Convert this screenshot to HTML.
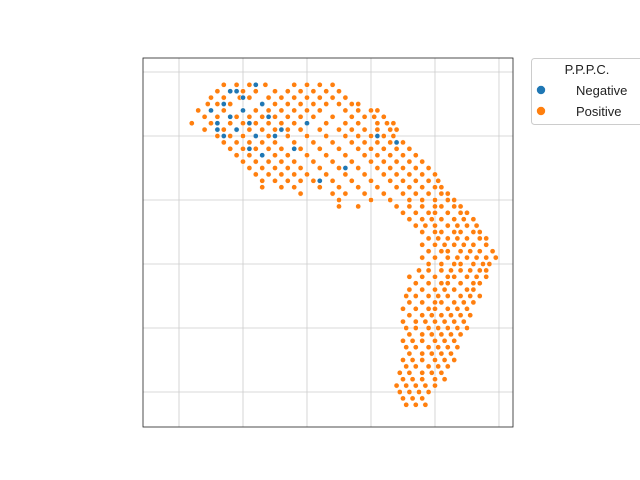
<!DOCTYPE html>
<html><head><meta charset="utf-8">
<style>
body{margin:0;background:#fff;}
svg{display:block;font-family:"Liberation Sans","DejaVu Sans",sans-serif;}
</style></head>
<body>
<svg id="chart" width="640" height="480">
<rect x="0" y="0" width="640" height="480" fill="#fff"/>
<g id="grid"></g>
<g id="points"></g>
<rect x="143" y="58" width="370" height="369" fill="none" stroke="#222" stroke-width="0.8"/>
<g>
<rect x="531.5" y="58.5" width="115" height="66" rx="3" fill="#fff" stroke="#ccc"/>
<text x="587" y="74" font-size="13" text-anchor="middle" fill="#222">P.P.P.C.</text>
<circle cx="541" cy="90" r="4.5" fill="#1f77b4" stroke="#fff" stroke-width="0.6"/>
<text x="576" y="95" font-size="13" fill="#222">Negative</text>
<circle cx="541" cy="111" r="4.5" fill="#ff7f0e" stroke="#fff" stroke-width="0.6"/>
<text x="576" y="116" font-size="13" fill="#222">Positive</text>
</g>
</svg>
<script>
const xTicks=[0,10,20,30,40,50];
const yTicks=[0,10,20,30,40,50];
const posRows=[
[48,[7,9,11,13.5,18,20,22,24]],
[47,[6,8,10,12,15,17,19,21,23,25]],
[46,[5,7,9.5,11,14,16,18,20,22,24,26]],
[45,[4.5,6,8,13,15,17,19,21,23,25,27,28]],
[44,[3,5,7,10,12,14,16,18,20,22,26,28,30,31]],
[43,[4,6,9,11,13,15,17,19,21,24,27,29,30.5,32]],
[42,[2,5,8,10,12,14,16,18,20,23,26,28,31,32.5,33.5]],
[41,[4,7,9,11,13,15,17,19,22,25,27,29,31,33,34]],
[40,[6,8,10,12,14,17,20,23,26,28,30,32,33.5]],
[39,[7,9,11,13,15,18,21,24,27,29,31,33,35]],
[38,[8,10,12,14,16,19,22,25,28,30,32,34,36]],
[37,[9,11,13,15,17,20,23,26,29,31,33,35,37]],
[36,[10,12,14,16,18,21,24,27,30,32,34,36,38]],
[35,[11,13,15,17,19,22,25,28,31,33,35,37,39]],
[34,[12,14,16,18,20,23,26,29,32,34,36,38,40]],
[33,[13,15,17,19,21,24,27,30,33,35,37,39,40.5]],
[32,[13,16,18,22,25,28,31,34,36,38,40,41]],
[31,[19,24,26,29,32,35,37,39,41,42]],
[30,[25,30,33,36,38,40,42,43]],
[29,[25,28,34,36,38,40,41,43,44]],
[28,[35,37,39,40,42,44,45]],
[27,[36,38,39.5,41,43,44.5,46]],
[26,[37,38.5,40,42,43.5,45,46.5]],
[25,[38,40,41,43,44,46,47]],
[24,[39,40.5,42,43.5,45,47,48]],
[23,[38,40,41.5,43,44.5,46,48]],
[22,[39,41,42,44,45.5,47,49]],
[21,[38,40,42,43.5,45,46.5,48,49.5]],
[20,[39,41,43,44,46,47.5,48.5]],
[19,[37.5,39,41,42.5,44,45.5,47,48]],
[18,[36,38,40,42,43,45,46.5,48]],
[17,[37,39,41,42,44,46,47]],
[16,[36,38,40,41.5,43,45,46]],
[15,[35.5,37,39,40.5,42,44,45.5,47]],
[14,[36,38,40,41,43,44.5,46]],
[13,[35,37,39,40,42,43.5,45]],
[12,[36,38,39.5,41,42.5,44,45.5]],
[11,[35,37,38.5,40,41.5,43,44.5]],
[10,[35.5,37,39,40.5,42,43.5,45]],
[9,[36,38,39.5,41,42.5,44]],
[8,[35,36.5,38,40,41.5,43]],
[7,[35.5,37,39,40.5,42,43.5]],
[6,[36,38,39.5,41,42.5]],
[5,[35,36.5,38,40,41.5,43]],
[4,[35.5,37,39,40.5,42]],
[3,[34.5,36,38,39.5,41]],
[2,[35,36.5,38,40,41.5]],
[1,[34,35.5,37,38.5,40]],
[0,[34.5,36,37.5,39]],
[-1,[35,36.5,38]],
[-2,[35.5,37,38.5]]
];
const negX=[5,6,7,8,8,9,10,10,11,12,12,13,14,7,15,16,18,20,26,31,34,22,6,9,11,13];
const negY=[44,42,45,47,43,41,44,46,42,48,40,45,43,40,40,41,38,42,35,40,39,33,41,47,38,37];

const X0=143,X1=513,Y0=58,Y1=427;
const xDom=[-5.625,52.19],yDom=[-5.47,52.19];
function sx(v){return X0+(v-xDom[0])/(xDom[1]-xDom[0])*(X1-X0);}
function sy(v){return Y1-(v-yDom[0])/(yDom[1]-yDom[0])*(Y1-Y0);}
const NS="http://www.w3.org/2000/svg";
const grid=document.getElementById('grid');
xTicks.forEach(t=>{
  const l=document.createElementNS(NS,'line');
  l.setAttribute('x1',sx(t));l.setAttribute('x2',sx(t));l.setAttribute('y1',Y0);l.setAttribute('y2',Y1);
  l.setAttribute('stroke','#ccc');l.setAttribute('stroke-width','0.8');
  
  
  grid.appendChild(l);
});
yTicks.forEach(t=>{
  const l=document.createElementNS(NS,'line');
  l.setAttribute('y1',sy(t));l.setAttribute('y2',sy(t));l.setAttribute('x1',X0);l.setAttribute('x2',X1);
  l.setAttribute('stroke','#ccc');l.setAttribute('stroke-width','0.8');
  
  
  grid.appendChild(l);
});
const pts=document.getElementById('points');
function dot(x,y,c,name){
  const d=document.createElementNS(NS,'circle');
  d.setAttribute('cx',sx(x));d.setAttribute('cy',sy(y));d.setAttribute('r',2.6);
  d.setAttribute('fill',c);d.setAttribute('stroke','#fff');d.setAttribute('stroke-width','0.5');
  
  
  pts.appendChild(d);
}
posRows.forEach(r=>r[1].forEach(x=>dot(x,r[0],'#ff7f0e','point-positive')));
negX.forEach((x,i)=>dot(x,negY[i],'#1f77b4','point-negative'));
</script>
</body></html>
